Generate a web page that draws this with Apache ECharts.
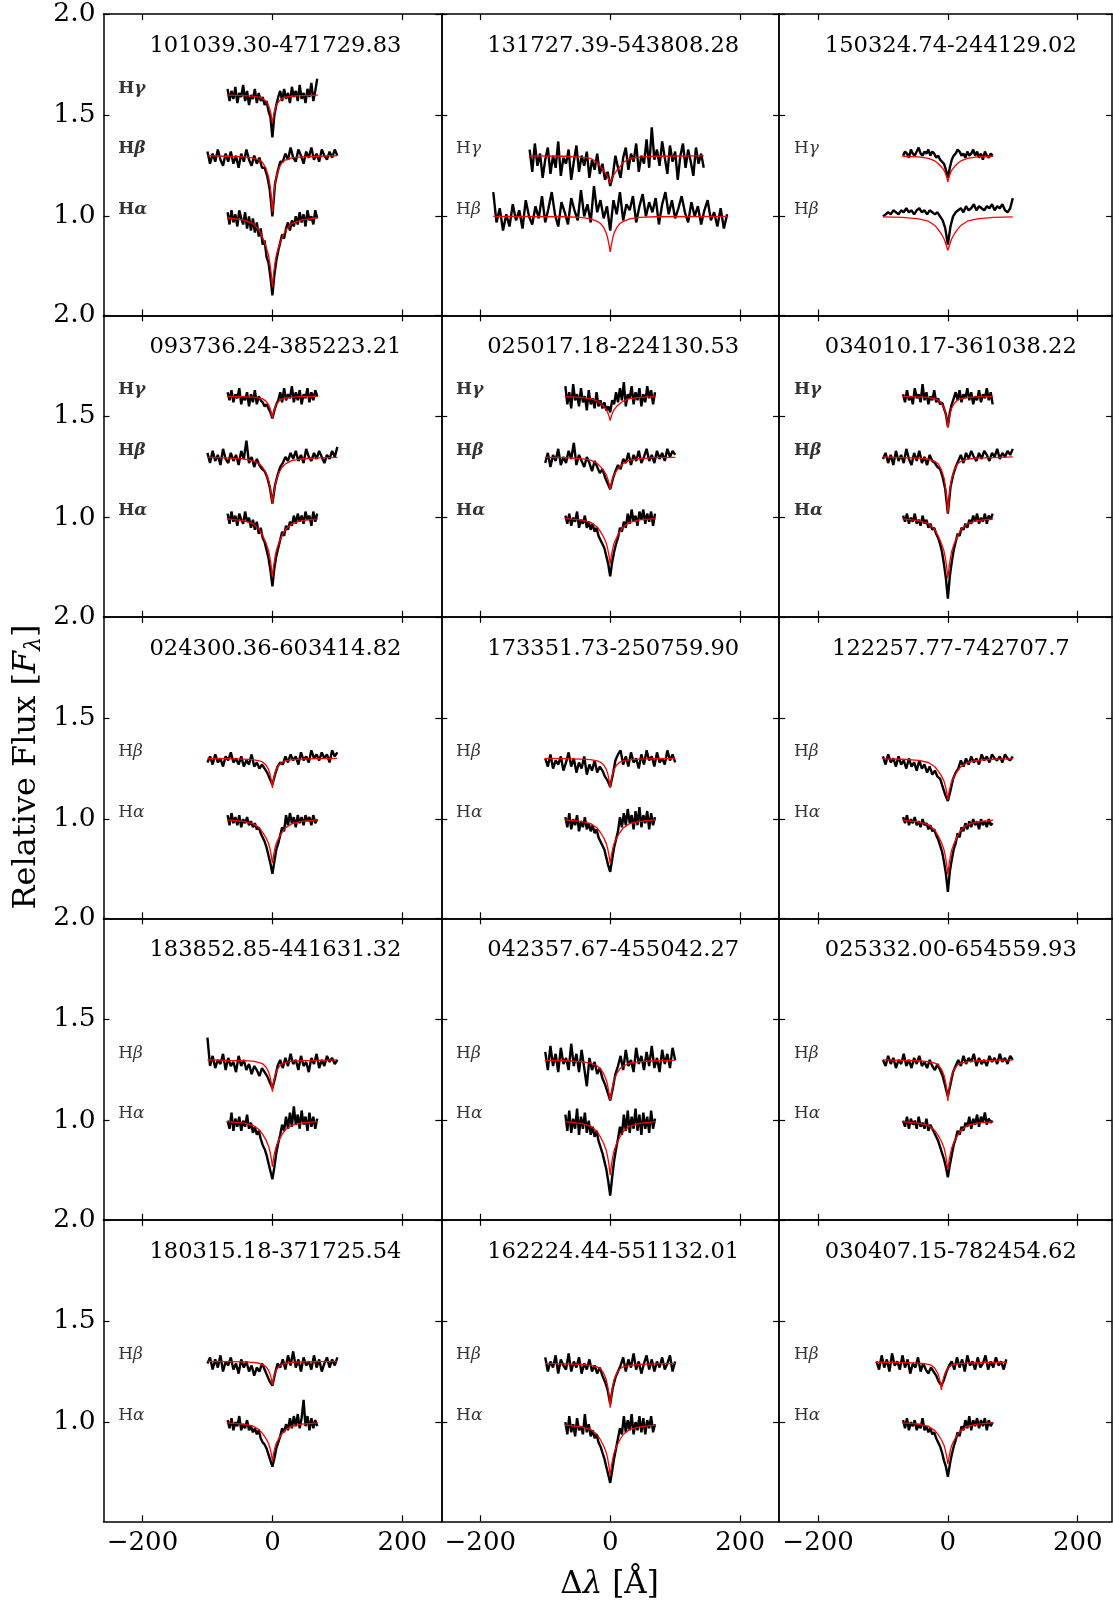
<!DOCTYPE html>
<html><head><meta charset="utf-8">
<script src="https://cdn.jsdelivr.net/npm/echarts@6/dist/echarts.min.js"></script>
<style>html,body{margin:0;padding:0;background:#fff}#c{width:1113px;height:1603px}</style>
</head><body><div id="c"></div>
<script>
// ---------- wavelength grids (Δλ, Å) ----------
const GA = [-69,-66,-63,-60,-57,-54,-51,-48,-45,-42,-39,-36,-33,-30,-27,-24,-21,-18,-15,-12,
 -9,-6,-3,0,3,6,9,
 12,15,18,21,24,27,30,33,36,39,42,45,48,51,54,57,60,63,66,69];
const GB = [-100,-96,-92,-88,-84,-80,-76,-72,-68,-64,-60,-56,-52,-48,-44,-40,-36,-32,-28,-24,-20,-16,
 -12,-8,-4,0,4,8,12,
 16,20,24,28,32,36,40,44,48,52,56,60,64,68,72,76,80,84,88,92,96,100];
const GB15 = [-110,-106,-102,-98,-94,-90,-86,-82,-78,-74,-70,-66,-62,-58,-54,-50,-46,-42,-38,-34,-30,-26,
 -22,-18,-14,-10,-6,-2,2,
 6,10,14,18,22,26,30,34,38,42,46,50,54,58,62,66,70,74,78,82,86,90];
const GH2 = [-124,-120,-116,-112,-108,-104,-100,-96,-92,-88,-84,-80,-76,-72,-68,-64,-60,-56,-52,-48,-44,-40,-36,-32,-28,-24,-20,-16,-12,-8,-4,
 0,
 4,8,12,16,20,24,28,32,36,40,44,48,52,56,60,64,68,72,76,80,84,88,92,96,100,104,108,112,116,120,124,128,132,136,140,144];
const GB2 = [-180,-175,-170,-165,-160,-155,-150,-145,-140,-135,-130,-125,-120,-115,-110,-105,-100,-95,-90,-85,-80,-75,-70,-65,-60,-55,-50,-45,-40,-35,-30,-25,-20,-15,-10,-5,
 0,
 5,10,15,20,25,30,35,40,45,50,55,60,65,70,75,80,85,90,95,100,105,110,115,120,125,130,135,140,145,150,155,160,165,170,175,180];
const FX_A = [-70,-45,-30,-20,-15,-10,-6,-4,-2,0,2,4,6,10,15,20,30,45,70];
const FX_B = [-100,-70,-45,-30,-20,-15,-10,-6,-4,-2,0,2,4,6,10,15,20,30,45,70,100];
const FX_G2 = [-124,-70,-45,-30,-20,-15,-10,-6,-4,-2,0,2,4,6,10,15,20,30,45,70,144];
const FX_B2 = [-180,-70,-45,-30,-20,-15,-10,-6,-4,-2,0,2,4,6,10,15,20,30,45,70,180];
const FX_B15 = [-110,-80,-55,-40,-30,-25,-20,-16,-14,-12,-10,-8,-6,-4,0,5,10,20,35,60,90];

// ---------- panel titles ----------
const TITLES = ['101039.30-471729.83','131727.39-543808.28','150324.74-244129.02',
 '093736.24-385223.21','025017.18-224130.53','034010.17-361038.22',
 '024300.36-603414.82','173351.73-250759.90','122257.77-742707.7',
 '183852.85-441631.32','042357.67-455042.27','025332.00-654559.93',
 '180315.18-371725.54','162224.44-551132.01','030407.15-782454.62'];
const BOLD_LABELS = [true,false,false,true,true,true,false,false,false,false,false,false,false,false,false];

// ---------- observed spectra (relative flux, offset) ----------
const P1_HG = [1.63,1.57,1.62,1.58,1.64,1.56,1.61,1.59,1.65,1.57,1.62,1.55,1.60,1.58,1.63,1.56,1.61,1.57,1.59,1.55,
 1.57,1.52,1.49,1.39,1.50,1.55,1.59,
 1.62,1.57,1.63,1.58,1.61,1.56,1.64,1.59,1.62,1.57,1.65,1.58,1.61,1.56,1.63,1.59,1.66,1.57,1.62,1.68];
const P1_HB = [1.32,1.26,1.31,1.27,1.33,1.28,1.25,1.31,1.27,1.32,1.26,1.30,1.24,1.31,1.27,1.33,1.28,1.25,1.30,1.26,1.29,1.24,
 1.24,1.20,1.13,1.00,1.16,1.22,1.27,
 1.27,1.31,1.28,1.34,1.29,1.27,1.33,1.30,1.26,1.32,1.29,1.34,1.28,1.31,1.27,1.33,1.30,1.28,1.32,1.29,1.33,1.30];
const P1_HA = [1.02,0.96,1.03,0.97,1.01,0.95,1.03,0.99,0.96,1.02,0.94,1.00,0.93,0.99,0.92,0.97,0.90,0.94,0.86,0.88,
 0.80,0.77,0.70,0.61,0.71,0.78,0.83,
 0.87,0.91,0.89,0.94,0.97,0.93,0.98,0.95,1.00,0.96,1.02,0.97,1.01,0.95,1.03,0.98,1.00,0.96,1.03,0.99];
const P2_HG = [1.33,1.22,1.36,1.25,1.31,1.19,1.28,1.34,1.21,1.30,1.24,1.37,1.20,1.29,1.26,1.33,1.18,1.27,1.35,1.22,1.30,1.25,1.32,1.19,1.28,1.23,1.31,1.21,1.26,1.18,1.22,
 1.15,
 1.20,1.30,1.24,1.19,1.29,1.34,1.23,1.31,1.27,1.36,1.22,1.30,1.26,1.38,1.24,1.44,1.28,1.33,1.25,1.37,1.29,1.21,1.35,1.27,1.32,1.18,1.30,1.36,1.24,1.33,1.27,1.20,1.34,1.26,1.31,1.24];
const P2_HB = [1.12,0.97,1.04,0.93,1.01,0.95,1.06,0.98,1.03,0.94,1.08,1.00,0.96,1.05,0.99,1.10,0.97,1.04,1.12,1.01,0.95,1.07,1.02,0.96,1.09,1.03,0.98,1.13,1.00,1.06,0.97,1.15,1.02,1.08,0.99,1.05,
 0.93,
 1.08,1.01,1.12,0.98,1.06,1.03,1.10,0.97,1.05,1.11,1.00,1.07,1.02,1.09,0.96,1.06,1.12,1.01,1.08,0.99,1.04,1.10,1.02,0.97,1.07,1.00,1.05,0.96,1.03,1.08,0.98,1.02,0.95,1.04,0.94,1.01];
const P3_HG = [1.30,1.32,1.31,1.29,1.33,1.31,1.30,1.32,1.34,1.31,1.30,1.32,1.31,1.33,1.30,1.32,1.31,1.29,1.30,1.28,
 1.28,1.26,1.23,1.19,1.24,1.28,1.30,
 1.31,1.33,1.32,1.30,1.31,1.29,1.32,1.30,1.31,1.33,1.30,1.32,1.29,1.31,1.28,1.32,1.30,1.29,1.31,1.30];
const P3_HB = [1.00,1.01,1.02,1.01,1.03,1.02,1.01,1.03,1.02,1.04,1.02,1.03,1.01,1.03,1.04,1.02,1.03,1.01,1.03,1.02,1.01,1.02,
 1.00,0.98,0.94,0.86,0.95,1.00,1.02,
 1.03,1.04,1.02,1.05,1.03,1.04,1.06,1.03,1.05,1.04,1.03,1.05,1.04,1.06,1.03,1.05,1.04,1.06,1.03,1.02,1.04,1.09];
const P4_HG = [1.62,1.58,1.63,1.57,1.61,1.59,1.64,1.56,1.60,1.58,1.62,1.55,1.61,1.57,1.63,1.56,1.60,1.58,1.57,1.55,
 1.56,1.54,1.52,1.49,1.53,1.56,1.58,
 1.62,1.57,1.64,1.58,1.61,1.59,1.65,1.57,1.62,1.58,1.63,1.56,1.61,1.59,1.64,1.57,1.62,1.58,1.63,1.60];
const P4_HB = [1.32,1.27,1.33,1.28,1.31,1.26,1.34,1.29,1.27,1.32,1.28,1.31,1.26,1.33,1.29,1.38,1.27,1.30,1.25,1.29,1.26,1.24,
 1.23,1.20,1.15,1.07,1.16,1.21,1.25,
 1.27,1.30,1.28,1.32,1.29,1.33,1.28,1.31,1.27,1.34,1.30,1.28,1.32,1.29,1.33,1.30,1.27,1.31,1.29,1.33,1.30,1.35];
const P4_HA = [1.02,0.97,1.03,0.98,1.01,0.96,1.02,0.99,0.97,1.03,0.98,1.00,0.95,0.99,0.94,0.98,0.92,0.95,0.90,0.88,
 0.84,0.80,0.74,0.66,0.75,0.81,0.85,
 0.89,0.93,0.91,0.96,0.94,0.98,0.96,1.01,0.97,1.02,0.98,1.01,0.97,1.03,0.99,1.01,0.96,1.03,0.98,1.02];
const P5_HG = [1.65,1.56,1.62,1.54,1.66,1.58,1.61,1.55,1.64,1.57,1.60,1.53,1.63,1.56,1.59,1.54,1.62,1.55,1.58,1.54,
 1.57,1.53,1.55,1.52,1.58,1.56,1.62,
 1.57,1.64,1.58,1.67,1.55,1.61,1.59,1.65,1.56,1.62,1.58,1.64,1.55,1.61,1.57,1.65,1.59,1.63,1.56,1.62];
const P5_HB = [1.27,1.32,1.25,1.31,1.28,1.34,1.26,1.30,1.27,1.33,1.29,1.37,1.26,1.31,1.28,1.25,1.30,1.27,1.23,1.28,1.25,1.22,
 1.24,1.20,1.17,1.14,1.19,1.23,1.26,
 1.24,1.29,1.27,1.32,1.26,1.31,1.28,1.33,1.27,1.30,1.34,1.28,1.31,1.27,1.33,1.29,1.32,1.28,1.34,1.30,1.33,1.31];
const P5_HA = [1.01,0.97,1.02,0.96,1.00,0.98,1.03,0.95,0.99,0.97,1.01,0.95,0.98,0.94,0.97,0.93,0.95,0.91,0.89,0.87,
 0.85,0.81,0.77,0.71,0.78,0.83,0.87,
 0.90,0.95,0.93,0.98,0.95,1.02,0.97,1.04,0.98,1.01,0.96,1.03,0.99,1.04,0.97,1.02,0.98,1.03,0.96,1.02];
const P6_HG = [1.61,1.57,1.63,1.58,1.60,1.56,1.64,1.59,1.61,1.57,1.66,1.58,1.62,1.56,1.60,1.58,1.63,1.57,1.59,1.56,
 1.57,1.54,1.51,1.45,1.52,1.56,1.59,
 1.62,1.58,1.63,1.57,1.61,1.59,1.64,1.58,1.62,1.56,1.60,1.58,1.63,1.57,1.61,1.59,1.64,1.58,1.62,1.56];
const P6_HB = [1.29,1.32,1.27,1.31,1.26,1.33,1.28,1.31,1.27,1.34,1.29,1.26,1.32,1.28,1.33,1.27,1.30,1.26,1.31,1.28,1.27,1.25,
 1.24,1.20,1.14,1.02,1.15,1.21,1.25,
 1.28,1.31,1.27,1.32,1.29,1.33,1.30,1.28,1.32,1.29,1.33,1.31,1.28,1.32,1.30,1.34,1.29,1.32,1.30,1.33,1.31,1.34];
const P6_HA = [1.01,0.98,1.02,0.97,1.00,0.98,1.02,0.97,0.99,0.96,1.01,0.97,0.99,0.95,0.97,0.94,0.95,0.92,0.90,0.87,
 0.83,0.77,0.70,0.60,0.71,0.78,0.84,
 0.88,0.92,0.91,0.95,0.94,0.97,0.95,0.99,0.97,1.01,0.98,1.02,0.97,1.00,0.98,1.02,0.97,1.01,0.99,1.02];
const P7_HB = [1.28,1.31,1.27,1.32,1.28,1.30,1.26,1.31,1.29,1.33,1.28,1.30,1.27,1.31,1.26,1.29,1.27,1.32,1.26,1.28,1.25,1.27,
 1.25,1.23,1.20,1.17,1.22,1.26,1.28,
 1.27,1.31,1.28,1.32,1.29,1.31,1.27,1.33,1.29,1.31,1.28,1.34,1.30,1.32,1.29,1.33,1.30,1.32,1.28,1.34,1.31,1.33];
const P7_HA = [1.02,0.97,1.03,0.98,1.01,0.97,1.02,0.96,1.00,0.98,1.01,0.97,0.99,0.96,0.98,0.95,0.96,0.93,0.91,0.89,
 0.86,0.82,0.78,0.73,0.79,0.85,0.88,
 0.92,0.96,0.94,1.02,0.97,1.03,0.98,1.01,0.96,1.02,0.98,1.01,0.97,1.02,0.99,1.01,0.97,1.02,0.98,1.00];
const P8_HB = [1.30,1.26,1.32,1.25,1.29,1.27,1.31,1.24,1.28,1.33,1.26,1.30,1.23,1.28,1.25,1.31,1.22,1.27,1.24,1.29,1.23,1.26,
 1.24,1.21,1.19,1.16,1.22,1.29,1.32,
 1.34,1.27,1.31,1.26,1.33,1.28,1.30,1.25,1.32,1.27,1.34,1.29,1.31,1.26,1.33,1.28,1.30,1.27,1.34,1.29,1.32,1.28];
const P8_HA = [1.01,0.96,1.03,0.95,1.00,0.97,1.02,0.94,0.99,0.96,1.01,0.95,0.98,0.94,0.97,0.93,0.95,0.91,0.89,0.87,
 0.85,0.81,0.77,0.74,0.80,0.86,0.90,
 0.94,1.01,0.96,1.03,0.97,1.05,0.98,1.02,0.95,1.04,0.97,1.06,0.96,1.02,0.98,1.04,0.95,1.03,0.97,1.01];
const P9_HB = [1.31,1.27,1.32,1.28,1.30,1.26,1.31,1.27,1.29,1.25,1.30,1.26,1.28,1.24,1.29,1.25,1.27,1.23,1.26,1.22,1.24,1.21,
 1.20,1.16,1.12,1.09,1.14,1.20,1.23,
 1.25,1.29,1.26,1.30,1.27,1.31,1.28,1.30,1.27,1.32,1.29,1.31,1.28,1.32,1.30,1.29,1.31,1.28,1.32,1.30,1.29,1.31];
const P9_HA = [1.01,0.98,1.02,0.97,1.00,0.98,1.01,0.97,0.99,0.96,1.00,0.97,0.98,0.95,0.97,0.94,0.95,0.92,0.90,0.87,
 0.84,0.79,0.73,0.64,0.74,0.80,0.85,
 0.88,0.93,0.91,0.96,0.94,0.98,0.95,0.99,0.96,1.00,0.97,0.99,0.95,1.00,0.97,0.99,0.96,1.00,0.97,0.98];
const P10_HB = [1.41,1.27,1.32,1.26,1.30,1.28,1.33,1.25,1.31,1.27,1.29,1.24,1.32,1.27,1.30,1.25,1.28,1.23,1.27,1.25,1.22,1.26,
 1.24,1.22,1.19,1.16,1.21,1.27,1.30,
 1.26,1.31,1.27,1.33,1.28,1.30,1.25,1.32,1.27,1.29,1.24,1.31,1.28,1.33,1.26,1.30,1.27,1.32,1.29,1.31,1.28,1.30];
const P10_HA = [1.00,0.96,1.04,0.95,1.01,0.97,1.02,0.95,1.00,0.97,1.03,0.96,0.99,0.94,0.97,0.93,0.95,0.91,0.88,0.86,
 0.83,0.79,0.75,0.71,0.77,0.84,0.89,
 0.93,0.98,0.95,1.02,0.96,1.04,0.97,1.07,0.98,1.03,0.96,1.05,0.98,1.02,0.95,1.04,0.97,1.02,0.96,1.01];
const P11_HB = [1.34,1.25,1.37,1.27,1.33,1.24,1.36,1.28,1.31,1.25,1.38,1.27,1.33,1.24,1.35,1.26,1.17,1.31,1.25,1.29,1.23,1.26,
 1.21,1.18,1.14,1.10,1.16,1.23,1.27,
 1.32,1.25,1.35,1.27,1.30,1.24,1.36,1.28,1.32,1.25,1.34,1.27,1.37,1.26,1.31,1.24,1.35,1.28,1.33,1.26,1.36,1.30];
const P11_HA = [1.03,0.95,1.05,0.94,1.01,0.96,1.06,0.93,1.02,0.96,1.04,0.94,1.00,0.93,0.97,0.92,0.95,0.90,0.87,0.84,
 0.80,0.76,0.70,0.63,0.72,0.80,0.86,
 0.91,0.97,0.93,1.03,0.95,1.05,0.94,1.02,0.96,1.06,0.95,1.03,0.93,1.04,0.96,1.02,0.94,1.05,0.96,1.01];
const P12_HB = [1.30,1.27,1.32,1.28,1.31,1.26,1.30,1.28,1.33,1.27,1.30,1.26,1.31,1.28,1.32,1.27,1.29,1.26,1.30,1.27,1.25,1.28,
 1.25,1.22,1.17,1.12,1.18,1.24,1.27,
 1.30,1.27,1.32,1.28,1.31,1.29,1.33,1.27,1.31,1.28,1.30,1.27,1.32,1.29,1.31,1.28,1.33,1.29,1.31,1.28,1.32,1.30];
const P12_HA = [1.00,0.97,1.02,0.96,1.01,0.98,1.00,0.96,1.02,0.97,0.99,0.96,1.01,0.95,0.98,0.96,0.94,0.92,0.90,0.87,
 0.84,0.81,0.77,0.72,0.78,0.83,0.88,
 0.91,0.95,0.93,0.97,0.95,0.99,0.97,1.02,0.96,1.01,0.98,1.03,0.97,1.02,0.99,1.04,0.98,1.01,0.99,1.00];
const P13_HB = [1.29,1.32,1.26,1.31,1.27,1.33,1.25,1.30,1.28,1.32,1.26,1.29,1.24,1.31,1.27,1.30,1.25,1.28,1.23,1.27,1.25,1.29,
 1.26,1.23,1.20,1.18,1.24,1.29,1.27,
 1.31,1.26,1.33,1.28,1.35,1.27,1.31,1.25,1.32,1.28,1.30,1.26,1.33,1.27,1.31,1.25,1.29,1.32,1.27,1.31,1.28,1.32];
const P13_HA = [1.01,0.97,1.02,0.96,1.00,0.98,1.03,0.96,0.99,0.97,1.01,0.96,0.98,0.95,0.97,0.94,0.96,0.92,0.90,0.89,
 0.87,0.84,0.81,0.78,0.82,0.87,0.90,
 0.93,0.97,0.95,0.99,0.96,1.02,0.97,1.03,0.98,1.04,0.97,1.02,1.11,0.98,1.03,0.96,1.02,0.97,1.01,0.98];
const P14_HB = [1.32,1.25,1.30,1.27,1.33,1.24,1.31,1.28,1.26,1.34,1.25,1.30,1.27,1.32,1.24,1.29,1.26,1.31,1.25,1.28,1.24,1.27,
 1.23,1.20,1.16,1.09,1.17,1.22,1.25,
 1.28,1.32,1.25,1.31,1.27,1.34,1.26,1.30,1.24,1.29,1.33,1.26,1.31,1.25,1.30,1.27,1.32,1.26,1.29,1.33,1.25,1.30];
const P14_HA = [1.00,0.94,1.03,0.95,0.99,0.93,1.02,0.96,0.98,0.94,1.04,0.95,0.99,0.93,0.96,0.92,0.94,0.90,0.88,0.85,
 0.82,0.78,0.74,0.70,0.76,0.82,0.87,
 0.92,0.97,0.94,1.03,0.95,1.01,0.96,1.04,0.94,1.00,0.96,1.03,0.95,1.02,0.94,1.01,0.97,1.03,0.95,0.99];
const P15_HB = [1.30,1.26,1.33,1.27,1.31,1.25,1.34,1.28,1.30,1.26,1.33,1.27,1.31,1.24,1.29,1.27,1.32,1.25,1.29,1.26,1.24,1.27,
 1.25,1.23,1.20,1.18,1.21,1.25,1.28,
 1.30,1.26,1.32,1.27,1.31,1.25,1.33,1.28,1.30,1.26,1.32,1.27,1.29,1.33,1.26,1.30,1.27,1.32,1.28,1.30,1.26,1.31];
const P15_HA = [1.01,0.97,1.02,0.96,1.00,0.98,1.01,0.96,0.99,0.97,1.02,0.96,0.98,0.95,0.97,0.94,0.95,0.92,0.90,0.88,
 0.85,0.81,0.78,0.73,0.79,0.84,0.88,
 0.91,0.95,0.93,0.98,0.96,1.01,0.97,1.03,0.96,1.01,0.98,1.02,0.97,1.01,0.98,1.02,0.96,1.01,0.98,1.00];

// ---------- model fits ----------
const P1_HG_FIT = [1.599,1.597,1.594,1.589,1.583,1.569,1.548,1.53,1.502,1.46,1.502,1.53,1.548,1.569,1.583,1.589,1.594,1.597,1.599];
const P1_HB_FIT = [1.3,1.297,1.294,1.289,1.278,1.266,1.238,1.196,1.16,1.104,1.02,1.104,1.16,1.196,1.238,1.266,1.278,1.289,1.294,1.297,1.3];
const P1_HA_FIT = [0.993,0.983,0.965,0.93,0.895,0.853,0.808,0.769,0.72,0.65,0.72,0.769,0.808,0.853,0.895,0.93,0.965,0.983,0.993];
const P2_HG_FIT = [1.299,1.297,1.293,1.287,1.266,1.246,1.226,1.208,1.196,1.181,1.165,1.181,1.196,1.208,1.226,1.246,1.266,1.287,1.293,1.297,1.299];
const P2_HB_FIT = [1.0,0.998,0.995,0.988,0.975,0.965,0.944,0.917,0.894,0.863,0.824,0.863,0.894,0.917,0.944,0.965,0.975,0.988,0.995,0.998,1.0];
const P3_HG_FIT = [1.297,1.294,1.287,1.274,1.261,1.245,1.228,1.214,1.196,1.17,1.196,1.214,1.228,1.245,1.261,1.274,1.287,1.294,1.297];
const P3_HB_FIT = [0.997,0.995,0.988,0.976,0.955,0.936,0.913,0.889,0.872,0.852,0.832,0.852,0.872,0.889,0.913,0.936,0.955,0.976,0.988,0.995,0.997];
const P4_HG_FIT = [1.599,1.598,1.596,1.591,1.587,1.576,1.559,1.545,1.523,1.49,1.523,1.545,1.559,1.576,1.587,1.591,1.596,1.598,1.599];
const P4_HB_FIT = [1.298,1.295,1.291,1.282,1.266,1.249,1.222,1.185,1.157,1.116,1.07,1.116,1.157,1.185,1.222,1.249,1.266,1.282,1.291,1.295,1.298];
const P4_HA_FIT = [0.994,0.985,0.97,0.941,0.912,0.876,0.838,0.805,0.764,0.705,0.764,0.805,0.838,0.876,0.912,0.941,0.97,0.985,0.994];
const P5_HG_FIT = [1.598,1.594,1.588,1.576,1.564,1.55,1.534,1.521,1.504,1.48,1.504,1.521,1.534,1.55,1.564,1.576,1.588,1.594,1.598];
const P5_HB_FIT = [1.298,1.297,1.292,1.284,1.268,1.252,1.233,1.212,1.194,1.172,1.14,1.172,1.194,1.212,1.233,1.252,1.268,1.284,1.292,1.297,1.298];
const P5_HA_FIT = [0.995,0.989,0.977,0.954,0.931,0.903,0.874,0.848,0.816,0.77,0.816,0.848,0.874,0.903,0.931,0.954,0.977,0.989,0.995];
const P6_HG_FIT = [1.598,1.597,1.594,1.587,1.581,1.565,1.542,1.522,1.49,1.443,1.49,1.522,1.542,1.565,1.581,1.587,1.594,1.597,1.598];
const P6_HB_FIT = [1.3,1.297,1.294,1.289,1.278,1.266,1.238,1.196,1.16,1.104,1.02,1.104,1.16,1.196,1.238,1.266,1.278,1.289,1.294,1.297,1.3];
const P6_HA_FIT = [0.994,0.985,0.97,0.94,0.91,0.874,0.835,0.802,0.76,0.70,0.76,0.802,0.835,0.874,0.91,0.94,0.97,0.985,0.994];
const P7_HB_FIT = [1.3,1.299,1.297,1.294,1.288,1.282,1.268,1.246,1.227,1.198,1.154,1.198,1.227,1.246,1.268,1.282,1.288,1.294,1.297,1.299,1.3];
const P7_HA_FIT = [0.996,0.989,0.978,0.957,0.935,0.909,0.881,0.857,0.826,0.783,0.826,0.857,0.881,0.909,0.935,0.957,0.978,0.989,0.996];
const P8_HB_FIT = [1.3,1.299,1.297,1.294,1.288,1.282,1.268,1.246,1.227,1.198,1.154,1.198,1.227,1.246,1.268,1.282,1.288,1.294,1.297,1.299,1.3];
const P8_HA_FIT = [0.996,0.989,0.978,0.956,0.934,0.908,0.879,0.855,0.824,0.78,0.824,0.855,0.879,0.908,0.934,0.956,0.978,0.989,0.996];
const P9_HB_FIT = [1.298,1.296,1.29,1.28,1.259,1.239,1.214,1.188,1.165,1.137,1.096,1.137,1.165,1.188,1.214,1.239,1.259,1.28,1.29,1.296,1.298];
const P9_HA_FIT = [0.995,0.986,0.973,0.945,0.918,0.885,0.849,0.819,0.781,0.726,0.781,0.819,0.849,0.885,0.918,0.945,0.973,0.986,0.995];
const P10_HB_FIT = [1.3,1.298,1.297,1.294,1.287,1.281,1.265,1.242,1.222,1.19,1.143,1.19,1.222,1.242,1.265,1.281,1.287,1.294,1.297,1.298,1.3];
const P10_HA_FIT = [0.995,0.989,0.977,0.955,0.932,0.905,0.875,0.85,0.818,0.773,0.818,0.85,0.875,0.905,0.932,0.955,0.977,0.989,0.995];
const P11_HB_FIT = [1.298,1.296,1.292,1.284,1.27,1.256,1.232,1.2,1.176,1.14,1.10,1.14,1.176,1.2,1.232,1.256,1.27,1.284,1.292,1.296,1.298];
const P11_HA_FIT = [0.995,0.987,0.973,0.946,0.919,0.887,0.852,0.822,0.785,0.731,0.785,0.822,0.852,0.887,0.919,0.946,0.973,0.987,0.995];
const P12_HB_FIT = [1.3,1.298,1.296,1.292,1.284,1.276,1.255,1.225,1.199,1.158,1.097,1.158,1.199,1.225,1.255,1.276,1.284,1.292,1.296,1.298,1.3];
const P12_HA_FIT = [0.995,0.988,0.976,0.951,0.927,0.898,0.866,0.839,0.805,0.756,0.805,0.839,0.866,0.898,0.927,0.951,0.976,0.988,0.995];
const P13_HB_FIT = [1.3,1.299,1.298,1.295,1.291,1.286,1.274,1.257,1.242,1.219,1.184,1.219,1.242,1.257,1.274,1.286,1.291,1.295,1.298,1.299,1.3];
const P13_HA_FIT = [0.996,0.99,0.981,0.962,0.943,0.92,0.896,0.875,0.848,0.81,0.848,0.875,0.896,0.92,0.943,0.962,0.981,0.99,0.996];
const P14_HB_FIT = [1.29,1.288,1.286,1.281,1.273,1.264,1.242,1.209,1.181,1.137,1.072,1.137,1.181,1.209,1.242,1.264,1.273,1.281,1.286,1.288,1.29];
const P14_HA_FIT = [0.985,0.977,0.964,0.939,0.913,0.882,0.849,0.821,0.785,0.734,0.785,0.821,0.849,0.882,0.913,0.939,0.964,0.977,0.985];
const P15_HB_FIT = [1.296,1.295,1.293,1.29,1.285,1.28,1.266,1.245,1.227,1.2,1.159,1.2,1.227,1.245,1.266,1.28,1.285,1.29,1.293,1.295,1.296];
const P15_HA_FIT = [0.996,0.99,0.979,0.958,0.938,0.913,0.886,0.863,0.834,0.792,0.834,0.863,0.886,0.913,0.938,0.958,0.979,0.99,0.996];

// [panel, greek letter, continuum level, x grid, flux, fit x grid, fit flux]
const SPECTRA = [
 [0,'γ',1.6,GA,P1_HG,FX_A,P1_HG_FIT],[0,'β',1.3,GB,P1_HB,FX_B,P1_HB_FIT],[0,'α',1.0,GA,P1_HA,FX_A,P1_HA_FIT],
 [1,'γ',1.3,GH2,P2_HG,FX_G2,P2_HG_FIT],[1,'β',1.0,GB2,P2_HB,FX_B2,P2_HB_FIT],
 [2,'γ',1.3,GA,P3_HG,FX_A,P3_HG_FIT],[2,'β',1.0,GB,P3_HB,FX_B,P3_HB_FIT],
 [3,'γ',1.6,GA,P4_HG,FX_A,P4_HG_FIT],[3,'β',1.3,GB,P4_HB,FX_B,P4_HB_FIT],[3,'α',1.0,GA,P4_HA,FX_A,P4_HA_FIT],
 [4,'γ',1.6,GA,P5_HG,FX_A,P5_HG_FIT],[4,'β',1.3,GB,P5_HB,FX_B,P5_HB_FIT],[4,'α',1.0,GA,P5_HA,FX_A,P5_HA_FIT],
 [5,'γ',1.6,GA,P6_HG,FX_A,P6_HG_FIT],[5,'β',1.3,GB,P6_HB,FX_B,P6_HB_FIT],[5,'α',1.0,GA,P6_HA,FX_A,P6_HA_FIT],
 [6,'β',1.3,GB,P7_HB,FX_B,P7_HB_FIT],[6,'α',1.0,GA,P7_HA,FX_A,P7_HA_FIT],
 [7,'β',1.3,GB,P8_HB,FX_B,P8_HB_FIT],[7,'α',1.0,GA,P8_HA,FX_A,P8_HA_FIT],
 [8,'β',1.3,GB,P9_HB,FX_B,P9_HB_FIT],[8,'α',1.0,GA,P9_HA,FX_A,P9_HA_FIT],
 [9,'β',1.3,GB,P10_HB,FX_B,P10_HB_FIT],[9,'α',1.0,GA,P10_HA,FX_A,P10_HA_FIT],
 [10,'β',1.3,GB,P11_HB,FX_B,P11_HB_FIT],[10,'α',1.0,GA,P11_HA,FX_A,P11_HA_FIT],
 [11,'β',1.3,GB,P12_HB,FX_B,P12_HB_FIT],[11,'α',1.0,GA,P12_HA,FX_A,P12_HA_FIT],
 [12,'β',1.3,GB,P13_HB,FX_B,P13_HB_FIT],[12,'α',1.0,GA,P13_HA,FX_A,P13_HA_FIT],
 [13,'β',1.3,GB,P14_HB,FX_B,P14_HB_FIT],[13,'α',1.0,GA,P14_HA,FX_A,P14_HA_FIT],
 [14,'β',1.3,GB15,P15_HB,FX_B15,P15_HB_FIT],[14,'α',1.0,GA,P15_HA,FX_A,P15_HA_FIT]
];
const X_TICKS = [-200,0,200];
const Y_TICKS = [1.0,1.5,2.0];

// ---------- layout ----------
const FONT = 'DejaVu Serif';
const COL_LEFT = [103.5,441.3,779.1];
const COL_W = [337.8,337.8,333];
const COL_XMAX = [260,260,253];
const XMIN = -260;
const ROW_TOP = [14,315.3,616.8,918.3,1219.8];
const ROW_H = 301.5;
const YMIN = 0.51, YMAX = 2.0;

function pairs(xs, ys){ const o=[]; const n=Math.min(xs.length, ys.length); for(let i=0;i<n;i++) o.push([xs[i], ys[i]]); return o; }
const spine = {color:'#000', width:1.5};

const grid=[], xAxis=[], yAxis=[], series=[], graphic=[];
for (let i=0;i<15;i++){
  const r=Math.floor(i/3), c=i%3;
  grid.push({left:COL_LEFT[c], top:ROW_TOP[r], width:COL_W[c], height:ROW_H, containLabel:false});
  ['bottom','top'].forEach(pos=>{
    xAxis.push({type:'value', gridIndex:i, position:pos, min:XMIN, max:COL_XMAX[c],
      axisLine:{show:true, onZero:false, lineStyle:spine},
      axisTick:{show:true, inside:true, length:6, customValues:X_TICKS, lineStyle:{color:'#000', width:1.2}},
      axisLabel:{show: pos==='bottom' && r===4, customValues:X_TICKS, margin:9, fontSize:26, fontFamily:FONT, color:'#000',
        formatter: v => v<0 ? '\u2212'+Math.abs(v) : String(v)},
      splitLine:{show:false}});
  });
  ['left','right'].forEach(pos=>{
    yAxis.push({type:'value', gridIndex:i, position:pos, min:YMIN, max:YMAX,
      axisLine:{show:true, onZero:false, lineStyle:spine},
      axisTick:{show:true, inside:true, length:6, customValues:Y_TICKS, lineStyle:{color:'#000', width:1.2}},
      axisLabel:{show: pos==='left' && c===0, customValues:Y_TICKS, margin:8, fontSize:26.5, fontFamily:FONT, color:'#000',
        formatter: v => v.toFixed(1)},
      splitLine:{show:false}});
  });
  const x0 = COL_LEFT[c] + (0-XMIN)/(COL_XMAX[c]-XMIN)*COL_W[c];
  graphic.push({type:'text', x:x0+3, y:ROW_TOP[r]+32, silent:true,
    style:{text:TITLES[i], fontSize:22.6, fontFamily:FONT, fill:'#000', align:'center', verticalAlign:'middle'}});
}

const labelData = {};
SPECTRA.forEach(s=>{
  const [p, g, lev, xs, ys, fxs, fys] = s;
  series.push({type:'line', xAxisIndex:2*p, yAxisIndex:2*p, data:pairs(xs, ys), symbol:'none', showSymbol:false,
    lineStyle:{color:'#000', width:2.4}, z:2, silent:true, animation:false});
  series.push({type:'line', xAxisIndex:2*p, yAxisIndex:2*p, data:pairs(fxs, fys), symbol:'none', showSymbol:false,
    lineStyle:{color:'#ff0000', width:1.3}, z:3, silent:true, animation:false});
  (labelData[p] = labelData[p] || []).push({name:g, value:[-238, lev+0.033]});
});
Object.keys(labelData).forEach(k=>{
  const p=+k, w = BOLD_LABELS[p] ? 'bold' : 'normal';
  series.push({type:'scatter', xAxisIndex:2*p, yAxisIndex:2*p, data:labelData[p], symbolSize:1,
    itemStyle:{color:'rgba(0,0,0,0)'}, silent:true, animation:false, z:4,
    label:{show:true, position:'right', distance:0, color:'#000',
      formatter: q => '{h|H}{g|'+q.name+'}',
      rich:{h:{fontFamily:FONT, fontSize:17, fontWeight:w, color:'#000'},
            g:{fontFamily:FONT, fontSize:17, fontWeight:w, fontStyle:'italic', color:'#000'}}}});
});

graphic.push({type:'text', x:27, y:767, rotation:Math.PI/2, silent:true,
  style:{text:'{a|Relative Flux [}{b|F}{c|λ}{a|]}', fontSize:32, fontFamily:FONT, fill:'#000', align:'center', verticalAlign:'middle',
    rich:{a:{fontSize:32, fontFamily:FONT, fill:'#000'}, b:{fontSize:32, fontFamily:FONT, fontStyle:'italic', fill:'#000'},
          c:{fontSize:22, fontFamily:FONT, fontStyle:'italic', fill:'#000', padding:[15,0,0,0]}}}});
graphic.push({type:'text', x:609.6, y:1585, silent:true,
  style:{text:'{a|Δ}{b|λ}{a| [Å]}', fontSize:31, fontFamily:FONT, fill:'#000', align:'center', verticalAlign:'middle',
    rich:{a:{fontSize:31, fontFamily:FONT, fill:'#000'}, b:{fontSize:31, fontFamily:FONT, fontStyle:'italic', fill:'#000'}}}});

const chart = echarts.init(document.getElementById('c'), null, {renderer:'canvas', width:1113, height:1603});
chart.setOption({animation:false, backgroundColor:'#fff', grid, xAxis, yAxis, series, graphic});
</script></body></html>
